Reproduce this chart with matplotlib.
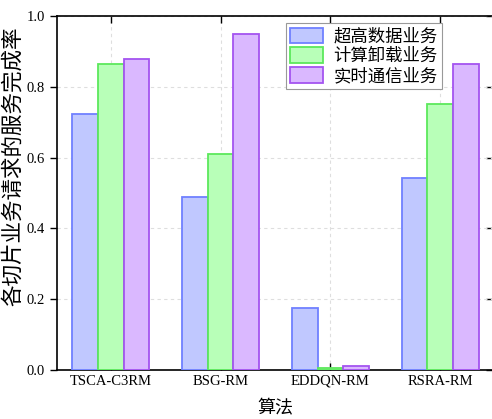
import matplotlib
matplotlib.use("Agg")
import matplotlib.pyplot as plt
import numpy as np

plt.rcParams['font.family'] = ['Liberation Serif', 'Noto Sans CJK SC']

algorithms = ['TSCA-C3RM', 'BSG-RM', 'EDDQN-RM', 'RSRA-RM']
series_names = ['超高数据业务', '计算卸载业务', '实时通信业务']
ultra_data = [0.723, 0.490, 0.176, 0.543]
compute_offload = [0.864, 0.610, 0.007, 0.750]
realtime_comm = [0.878, 0.948, 0.011, 0.864]

fills = ['#c0c8ff', '#b8ffb8', '#dab8ff']
edges = ['#7080ff', '#5ce85c', '#a454f0']

fig = plt.figure(figsize=(4.92, 4.19), dpi=100)
ax = fig.add_axes([57 / 492, 49 / 419, 437 / 492, 354 / 419])

x = np.arange(len(algorithms))
w = 0.233
for i, vals in enumerate([ultra_data, compute_offload, realtime_comm]):
    ax.bar(x + (i - 1) * w, vals, w, color=fills[i], edgecolor=edges[i],
           linewidth=1.3, label=series_names[i], zorder=3)

ax.set_xlim(-0.49, 3.49)
ax.set_ylim(0, 1.0)
ax.set_xticks(x)
ax.set_xticklabels(algorithms)
ax.set_yticks(np.arange(0, 1.01, 0.2))
ax.set_yticklabels(['%.1f' % v for v in np.arange(0, 1.01, 0.2)])
ax.tick_params(axis='x', direction='in', top=True, length=5, width=1, labelsize=10.5)
ax.tick_params(axis='y', which='both', left=True, right=False, direction='out',
               length=5, width=1, labelsize=10.5)
sec = ax.secondary_yaxis('right')
sec.set_yticks(np.arange(0, 1.01, 0.2))
sec.tick_params(direction='in', length=6, width=1, labelright=False)

for s in ax.spines.values():
    s.set_linewidth(1.2)

ax.grid(True, linestyle=(0, (3, 3)), color='#dedede', linewidth=0.8, zorder=0)
ax.set_axisbelow(True)

ax.set_xlabel('算法', family=['Noto Sans CJK SC'], fontsize=13, fontweight='light', labelpad=8)
ax.set_ylabel('各切片业务请求的服务完成率', family=['Noto Sans CJK SC'], fontsize=15.5,
              fontweight='light')
ax.yaxis.set_label_coords(-0.075, 0.575)

leg = ax.legend(loc='upper left', bbox_to_anchor=(0.523, 0.98), fancybox=False,
                framealpha=1, edgecolor='#999999', borderpad=0.25, labelspacing=0.1,
                handlelength=1.9, handleheight=1.0, handletextpad=0.6, borderaxespad=0,
                prop={'family': 'Noto Sans CJK SC', 'size': 12.5, 'weight': 'light'})
leg.get_frame().set_linewidth(0.8)

fig.savefig('out.png', dpi=100)
